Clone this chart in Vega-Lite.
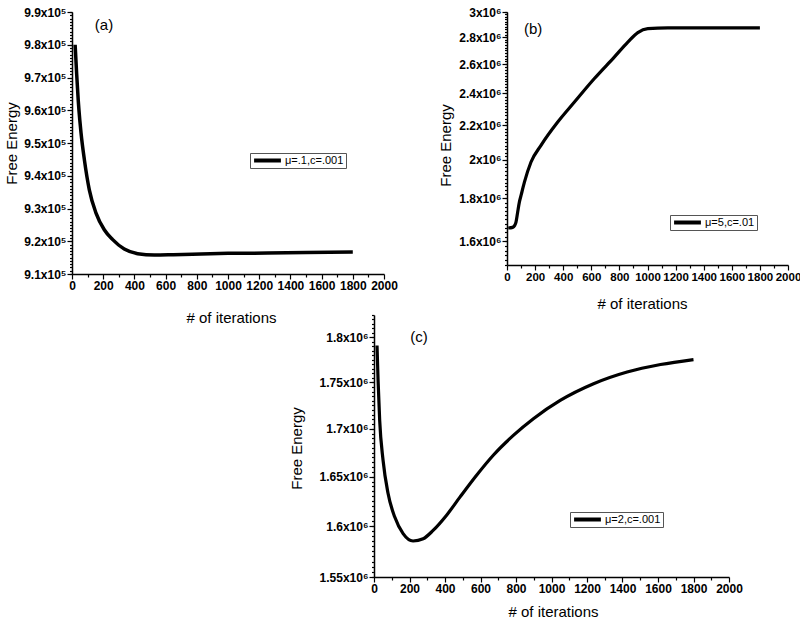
{
  "$schema": "https://vega.github.io/schema/vega-lite/v6.json",
  "padding": {"left": 3, "top": 5, "right": 0, "bottom": 0},
  "background": "white",
  "config": {
    "view": {"stroke": "transparent"},
    "axis": {
      "domainColor": "black", "domainWidth": 1.5, "tickColor": "black", "tickWidth": 1.2,
      "labelFont": "'Liberation Sans Narrow', 'Liberation Sans', Arial, sans-serif", "labelFontWeight": "bold", "labelFontSize": 12, "labelColor": "black",
      "labelPadding": 1, "labelOverlap": false, "labelFlush": false, "labelBound": false, "grid": false,
      "titleFont": "'Liberation Sans', Arial, sans-serif", "titleFontSize": 15, "titleFontWeight": "normal", "titleColor": "black",
      "titleBaseline": "middle", "titleAlign": "center"
    },
    "legend": {
      "orient": "none", "title": null, "symbolType": "stroke", "symbolStrokeWidth": 4, "symbolSize": 720,
      "symbolStrokeColor": "black", "strokeColor": "#555", "padding": 2, "clipHeight": 11,
      "labelFont": "'Liberation Sans', Arial, sans-serif", "labelFontSize": 11, "labelColor": "black", "labelOffset": 2
    }
  },
  "datasets": {
    "a": [
      {"iter": 20, "energy": 980000, "series": "μ=.1,c=.001"},
      {"iter": 30, "energy": 971000, "series": "μ=.1,c=.001"},
      {"iter": 40, "energy": 963000, "series": "μ=.1,c=.001"},
      {"iter": 50, "energy": 957000, "series": "μ=.1,c=.001"},
      {"iter": 58, "energy": 953000, "series": "μ=.1,c=.001"},
      {"iter": 79, "energy": 945000, "series": "μ=.1,c=.001"},
      {"iter": 111, "energy": 935700, "series": "μ=.1,c=.001"},
      {"iter": 154, "energy": 928600, "series": "μ=.1,c=.001"},
      {"iter": 207, "energy": 923500, "series": "μ=.1,c=.001"},
      {"iter": 261, "energy": 920500, "series": "μ=.1,c=.001"},
      {"iter": 335, "energy": 917600, "series": "μ=.1,c=.001"},
      {"iter": 421, "energy": 916200, "series": "μ=.1,c=.001"},
      {"iter": 528, "energy": 915800, "series": "μ=.1,c=.001"},
      {"iter": 650, "energy": 915900, "series": "μ=.1,c=.001"},
      {"iter": 827, "energy": 916100, "series": "μ=.1,c=.001"},
      {"iter": 1000, "energy": 916300, "series": "μ=.1,c=.001"},
      {"iter": 1254, "energy": 916400, "series": "μ=.1,c=.001"},
      {"iter": 1500, "energy": 916600, "series": "μ=.1,c=.001"},
      {"iter": 1800, "energy": 916700, "series": "μ=.1,c=.001"}
    ],
    "b": [
      {"iter": 9, "energy": 1660000, "series": "μ=5,c=.01"},
      {"iter": 40, "energy": 1663000, "series": "μ=5,c=.01"},
      {"iter": 55, "energy": 1672000, "series": "μ=5,c=.01"},
      {"iter": 64, "energy": 1687000, "series": "μ=5,c=.01"},
      {"iter": 75, "energy": 1730000, "series": "μ=5,c=.01"},
      {"iter": 88, "energy": 1782000, "series": "μ=5,c=.01"},
      {"iter": 100, "energy": 1815000, "series": "μ=5,c=.01"},
      {"iter": 124, "energy": 1882000, "series": "μ=5,c=.01"},
      {"iter": 171, "energy": 1989000, "series": "μ=5,c=.01"},
      {"iter": 242, "energy": 2082000, "series": "μ=5,c=.01"},
      {"iter": 361, "energy": 2219000, "series": "μ=5,c=.01"},
      {"iter": 480, "energy": 2344000, "series": "μ=5,c=.01"},
      {"iter": 622, "energy": 2500000, "series": "μ=5,c=.01"},
      {"iter": 765, "energy": 2653000, "series": "μ=5,c=.01"},
      {"iter": 860, "energy": 2762000, "series": "μ=5,c=.01"},
      {"iter": 931, "energy": 2835000, "series": "μ=5,c=.01"},
      {"iter": 1002, "energy": 2866000, "series": "μ=5,c=.01"},
      {"iter": 1145, "energy": 2873000, "series": "μ=5,c=.01"},
      {"iter": 1400, "energy": 2873000, "series": "μ=5,c=.01"},
      {"iter": 1800, "energy": 2873000, "series": "μ=5,c=.01"}
    ],
    "c": [
      {"iter": 17, "energy": 1790700, "series": "μ=2,c=.001"},
      {"iter": 23, "energy": 1752000, "series": "μ=2,c=.001"},
      {"iter": 32, "energy": 1709000, "series": "μ=2,c=.001"},
      {"iter": 51, "energy": 1667000, "series": "μ=2,c=.001"},
      {"iter": 79, "energy": 1633000, "series": "μ=2,c=.001"},
      {"iter": 117, "energy": 1609000, "series": "μ=2,c=.001"},
      {"iter": 164, "energy": 1592500, "series": "μ=2,c=.001"},
      {"iter": 220, "energy": 1585200, "series": "μ=2,c=.001"},
      {"iter": 277, "energy": 1587400, "series": "μ=2,c=.001"},
      {"iter": 333, "energy": 1595700, "series": "μ=2,c=.001"},
      {"iter": 409, "energy": 1610900, "series": "μ=2,c=.001"},
      {"iter": 484, "energy": 1629100, "series": "μ=2,c=.001"},
      {"iter": 578, "energy": 1651500, "series": "μ=2,c=.001"},
      {"iter": 672, "energy": 1672200, "series": "μ=2,c=.001"},
      {"iter": 785, "energy": 1693000, "series": "μ=2,c=.001"},
      {"iter": 898, "energy": 1710700, "series": "μ=2,c=.001"},
      {"iter": 1049, "energy": 1730300, "series": "μ=2,c=.001"},
      {"iter": 1237, "energy": 1748400, "series": "μ=2,c=.001"},
      {"iter": 1426, "energy": 1761200, "series": "μ=2,c=.001"},
      {"iter": 1614, "energy": 1769500, "series": "μ=2,c=.001"},
      {"iter": 1800, "energy": 1775000, "series": "μ=2,c=.001"}
    ]
  },
  "bounds": "flush",
  "spacing": 303,
  "resolve": {"scale": {"color": "independent"}, "legend": {"color": "independent"}},
  "vconcat": [
    {
      "bounds": "flush",
      "spacing": 123,
      "resolve": {"scale": {"color": "independent"}, "legend": {"color": "independent"}},
      "hconcat": [
        {
          "width": 312, "height": 262,
          "resolve": {"axis": {"x": "independent", "y": "independent"}},
          "layer": [
            {
              "data": {"name": "a"},
              "mark": {"type": "line", "strokeWidth": 3.5, "interpolate": "monotone"},
              "encoding": {
                "x": {"field": "iter", "type": "quantitative", "scale": {"domain": [0, 2000], "nice": false},
                  "axis": {"title": "# of iterations", "titleX": 159, "titleY": 43, "labelOverlap": false, "tickSize": 5,
                    "values": [0,200,400,600,800,1000,1200,1400,1600,1800,2000], "format": "d"}},
                "y": {"field": "energy", "type": "quantitative", "scale": {"domain": [910000, 990000], "zero": false, "nice": false},
                  "axis": {"title": "Free Energy", "titleX": -61, "titleY": 131, "titleAngle": 270, "labelOverlap": false, "tickSize": 5,
                    "values": [910000,920000,930000,940000,950000,960000,970000,980000,990000],
                    "labelExpr": "format(datum.value / 100000, '.1f') + 'x10⁵'"}},
                "color": {"field": "series", "type": "nominal", "scale": {"range": ["black"]},
                  "legend": {"legendX": 178, "legendY": 141}}
              }
            },
            {
              "data": {"values": [{"label": "(a)", "iter": 205, "energy": 986000}]},
              "mark": {"type": "text", "fontSize": 15, "font": "'Liberation Sans', Arial, sans-serif", "color": "black"},
              "encoding": {
                "x": {"field": "iter", "type": "quantitative",
                  "axis": {"orient": "bottom", "title": null, "labels": false, "domain": false, "tickSize": 3,
                    "values": [100,300,500,700,900,1100,1300,1500,1700,1900]}},
                "y": {"field": "energy", "type": "quantitative",
                  "axis": {"orient": "left", "title": null, "labels": false, "domain": false, "tickSize": 2.5,
                    "values": [910000,911000,912000,913000,914000,915000,916000,917000,918000,919000,920000,921000,922000,923000,924000,925000,926000,927000,928000,929000,930000,931000,932000,933000,934000,935000,936000,937000,938000,939000,940000,941000,942000,943000,944000,945000,946000,947000,948000,949000,950000,951000,952000,953000,954000,955000,956000,957000,958000,959000,960000,961000,962000,963000,964000,965000,966000,967000,968000,969000,970000,971000,972000,973000,974000,975000,976000,977000,978000,979000,980000,981000,982000,983000,984000,985000,986000,987000,988000,989000,990000]}},
                "text": {"field": "label"}
              }
            }
          ]
        },
        {
          "width": 281, "height": 253,
          "resolve": {"axis": {"x": "independent", "y": "independent"}},
          "layer": [
            {
              "data": {"name": "b"},
              "mark": {"type": "line", "strokeWidth": 3.2, "interpolate": "monotone"},
              "encoding": {
                "x": {"field": "iter", "type": "quantitative", "scale": {"domain": [0, 2000], "nice": false},
                  "axis": {"title": "# of iterations", "titleX": 135, "titleY": 38, "labelOverlap": false, "tickSize": 5, "labelFontSize": 11.5,
                    "values": [0,200,400,600,800,1000,1200,1400,1600,1800,2000], "format": "d"}},
                "y": {"field": "energy", "type": "quantitative", "scale": {"type": "log", "domain": [1500000, 3000000], "zero": false, "nice": false},
                  "axis": {"title": "Free Energy", "titleX": -62, "titleY": 133, "titleAngle": 270, "labelOverlap": false, "tickSize": 5,
                    "values": [1600000,1800000,2000000,2200000,2400000,2600000,2800000,3000000],
                    "labelExpr": "format(datum.value / 1000000, '~g') + 'x10⁶'"}},
                "color": {"field": "series", "type": "nominal", "scale": {"range": ["black"]},
                  "legend": {"legendX": 163, "legendY": 203}}
              }
            },
            {
              "data": {"values": [{"label": "(b)", "iter": 186, "energy": 2866000}]},
              "mark": {"type": "text", "fontSize": 15, "font": "'Liberation Sans', Arial, sans-serif", "color": "black"},
              "encoding": {
                "x": {"field": "iter", "type": "quantitative",
                  "axis": {"orient": "bottom", "title": null, "labels": false, "domain": false, "tickSize": 3,
                    "values": [100,300,500,700,900,1100,1300,1500,1700,1900]}},
                "y": {"field": "energy", "type": "quantitative",
                  "axis": {"orient": "left", "title": null, "labels": false, "domain": false, "tickSize": 2.5,
                    "values": [1500000,1520000,1540000,1560000,1580000,1600000,1620000,1640000,1660000,1680000,1700000,1720000,1740000,1760000,1780000,1800000,1820000,1840000,1860000,1880000,1900000,1920000,1940000,1960000,1980000,2000000,2020000,2040000,2060000,2080000,2100000,2120000,2140000,2160000,2180000,2200000,2220000,2240000,2260000,2280000,2300000,2320000,2340000,2360000,2380000,2400000,2420000,2440000,2460000,2480000,2500000,2520000,2540000,2560000,2580000,2600000,2620000,2640000,2660000,2680000,2700000,2720000,2740000,2760000,2780000,2800000,2820000,2840000,2860000,2880000,2900000,2920000,2940000,2960000,2980000,3000000]}},
                "text": {"field": "label"}
              }
            }
          ]
        }
      ]
    },
    {
      "bounds": "flush",
      "spacing": 10,
      "resolve": {"scale": {"color": "independent"}, "legend": {"color": "independent"}},
      "hconcat": [
        {
          "width": 292, "height": 262,
          "data": {"values": [{"v": 0}]},
          "mark": {"type": "point", "opacity": 0}
        },
        {
          "width": 355, "height": 262,
          "resolve": {"axis": {"x": "independent", "y": "independent"}},
          "layer": [
            {
              "data": {"name": "c"},
              "mark": {"type": "line", "strokeWidth": 3.2, "interpolate": "monotone"},
              "encoding": {
                "x": {"field": "iter", "type": "quantitative", "scale": {"domain": [0, 2000], "nice": false},
                  "axis": {"title": "# of iterations", "titleX": 179, "titleY": 34, "labelOverlap": false, "tickSize": 5,
                    "values": [0,200,400,600,800,1000,1200,1400,1600,1800,2000], "format": "d"}},
                "y": {"field": "energy", "type": "quantitative", "scale": {"type": "log", "domain": [1550000, 1825000], "zero": false, "nice": false},
                  "axis": {"title": "Free Energy", "titleX": -78, "titleY": 133, "titleAngle": 270, "labelOverlap": false, "tickSize": 5,
                    "values": [1550000,1600000,1650000,1700000,1750000,1800000],
                    "labelExpr": "format(datum.value / 1000000, '~g') + 'x10⁶'"}},
                "color": {"field": "series", "type": "nominal", "scale": {"range": ["black"]},
                  "legend": {"legendX": 196, "legendY": 197}}
              }
            },
            {
              "data": {"values": [{"label": "(c)", "iter": 254, "energy": 1800000}]},
              "mark": {"type": "text", "fontSize": 15, "font": "'Liberation Sans', Arial, sans-serif", "color": "black"},
              "encoding": {
                "x": {"field": "iter", "type": "quantitative",
                  "axis": {"orient": "bottom", "title": null, "labels": false, "domain": false, "tickSize": 3,
                    "values": [100,300,500,700,900,1100,1300,1500,1700,1900]}},
                "y": {"field": "energy", "type": "quantitative",
                  "axis": {"orient": "left", "title": null, "labels": false, "domain": false, "tickSize": 2.5,
                    "values": [1550000,1555000,1560000,1565000,1570000,1575000,1580000,1585000,1590000,1595000,1600000,1605000,1610000,1615000,1620000,1625000,1630000,1635000,1640000,1645000,1650000,1655000,1660000,1665000,1670000,1675000,1680000,1685000,1690000,1695000,1700000,1705000,1710000,1715000,1720000,1725000,1730000,1735000,1740000,1745000,1750000,1755000,1760000,1765000,1770000,1775000,1780000,1785000,1790000,1795000,1800000,1805000,1810000,1815000,1820000,1825000]}},
                "text": {"field": "label"}
              }
            }
          ]
        }
      ]
    }
  ]
}
